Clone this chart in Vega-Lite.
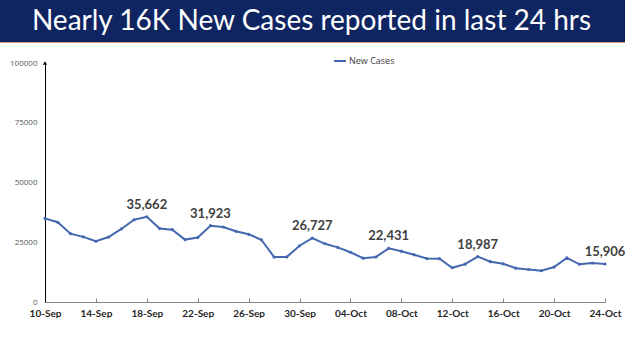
{
  "$schema": "https://vega.github.io/schema/vega-lite/v6.json",
  "padding": 0,
  "background": "white",
  "spacing": 0,
  "config": {"view": {"stroke": null}},
  "vconcat": [
    {
      "width": 625,
      "height": 42,
      "data": {"values": [{"t": "Nearly 16K New Cases reported in last 24 hrs"}]},
      "layer": [
        {"mark": {"type": "rect", "color": "#0E2562"}, "encoding": {}},
        {
          "mark": {"type": "text", "font": "Lato", "fontSize": 28, "color": "white", "align": "center", "baseline": "middle", "dx": -1, "dy": 1},
          "encoding": {"text": {"field": "t", "type": "nominal"}}
        }
      ]
    },
    {
      "width": 625,
      "height": 1,
      "data": {"values": [{"t": ""}]},
      "mark": {"type": "rect", "color": "#E39B73"},
      "encoding": {}
    },
    {
      "width": 625,
      "height": 259,
      "data": {"values": [
        {"day": "10-Sep", "cases": 34973, "series": "New Cases", "lab": false},
        {"day": "11-Sep", "cases": 33376, "series": "New Cases", "lab": false},
        {"day": "12-Sep", "cases": 28591, "series": "New Cases", "lab": false},
        {"day": "13-Sep", "cases": 27254, "series": "New Cases", "lab": false},
        {"day": "14-Sep", "cases": 25404, "series": "New Cases", "lab": false},
        {"day": "15-Sep", "cases": 27176, "series": "New Cases", "lab": false},
        {"day": "16-Sep", "cases": 30570, "series": "New Cases", "lab": false},
        {"day": "17-Sep", "cases": 34403, "series": "New Cases", "lab": false},
        {"day": "18-Sep", "cases": 35662, "series": "New Cases", "lab": true},
        {"day": "19-Sep", "cases": 30773, "series": "New Cases", "lab": false},
        {"day": "20-Sep", "cases": 30256, "series": "New Cases", "lab": false},
        {"day": "21-Sep", "cases": 26115, "series": "New Cases", "lab": false},
        {"day": "22-Sep", "cases": 26964, "series": "New Cases", "lab": false},
        {"day": "23-Sep", "cases": 31923, "series": "New Cases", "lab": true},
        {"day": "24-Sep", "cases": 31382, "series": "New Cases", "lab": false},
        {"day": "25-Sep", "cases": 29616, "series": "New Cases", "lab": false},
        {"day": "26-Sep", "cases": 28326, "series": "New Cases", "lab": false},
        {"day": "27-Sep", "cases": 26041, "series": "New Cases", "lab": false},
        {"day": "28-Sep", "cases": 18795, "series": "New Cases", "lab": false},
        {"day": "29-Sep", "cases": 18870, "series": "New Cases", "lab": false},
        {"day": "30-Sep", "cases": 23529, "series": "New Cases", "lab": false},
        {"day": "01-Oct", "cases": 26727, "series": "New Cases", "lab": true},
        {"day": "02-Oct", "cases": 24354, "series": "New Cases", "lab": false},
        {"day": "03-Oct", "cases": 22842, "series": "New Cases", "lab": false},
        {"day": "04-Oct", "cases": 20799, "series": "New Cases", "lab": false},
        {"day": "05-Oct", "cases": 18346, "series": "New Cases", "lab": false},
        {"day": "06-Oct", "cases": 18833, "series": "New Cases", "lab": false},
        {"day": "07-Oct", "cases": 22431, "series": "New Cases", "lab": true},
        {"day": "08-Oct", "cases": 21257, "series": "New Cases", "lab": false},
        {"day": "09-Oct", "cases": 19740, "series": "New Cases", "lab": false},
        {"day": "10-Oct", "cases": 18166, "series": "New Cases", "lab": false},
        {"day": "11-Oct", "cases": 18132, "series": "New Cases", "lab": false},
        {"day": "12-Oct", "cases": 14313, "series": "New Cases", "lab": false},
        {"day": "13-Oct", "cases": 15823, "series": "New Cases", "lab": false},
        {"day": "14-Oct", "cases": 18987, "series": "New Cases", "lab": true},
        {"day": "15-Oct", "cases": 16862, "series": "New Cases", "lab": false},
        {"day": "16-Oct", "cases": 15981, "series": "New Cases", "lab": false},
        {"day": "17-Oct", "cases": 14146, "series": "New Cases", "lab": false},
        {"day": "18-Oct", "cases": 13596, "series": "New Cases", "lab": false},
        {"day": "19-Oct", "cases": 13058, "series": "New Cases", "lab": false},
        {"day": "20-Oct", "cases": 14623, "series": "New Cases", "lab": false},
        {"day": "21-Oct", "cases": 18454, "series": "New Cases", "lab": false},
        {"day": "22-Oct", "cases": 15786, "series": "New Cases", "lab": false},
        {"day": "23-Oct", "cases": 16326, "series": "New Cases", "lab": false},
        {"day": "24-Oct", "cases": 15906, "series": "New Cases", "lab": true}
      ]},
      "encoding": {
        "x": {
          "field": "day", "type": "ordinal", "sort": null,
          "scale": {"type": "point", "padding": 0, "range": [45, 605]},
          "axis": {
            "title": null,
            "values": ["10-Sep", "14-Sep", "18-Sep", "22-Sep", "26-Sep", "30-Sep", "04-Oct", "08-Oct", "12-Oct", "16-Oct", "20-Oct", "24-Oct"],
            "labelAngle": 0,
            "labelFont": "Lato", "labelFontSize": 10, "labelFontWeight": "bold", "labelColor": "#262626",
            "domainColor": "#868686", "tickColor": "#868686", "tickSize": -4,
            "labelPadding": 10, "grid": false
          }
        },
        "y": {
          "field": "cases", "type": "quantitative",
          "scale": {"domain": [0, 100000], "nice": false, "range": [259, 20]},
          "axis": {
            "title": null, "values": [0, 25000, 50000, 75000, 100000], "format": "d",
            "offset": -45,
            "labelFont": "Open Sans", "labelFontSize": 8, "labelColor": "#595959",
            "ticks": false, "labelPadding": 8, "grid": false,
            "domainColor": "#000000", "domainWidth": 1
          }
        }
      },
      "layer": [
        {
          "mark": {"type": "line", "strokeWidth": 2, "point": {"filled": true, "size": 10}},
          "encoding": {
            "color": {
              "field": "series", "type": "nominal",
              "scale": {"range": ["#4468B0"]},
              "legend": {
                "title": null, "orient": "none", "legendX": 333, "legendY": 54,
                "symbolType": "stroke", "symbolSize": 144, "symbolStrokeWidth": 2,
                "labelFont": "Open Sans", "labelFontSize": 9, "labelColor": "#404040", "labelOffset": 2
              }
            }
          }
        },
        {
          "transform": [{"filter": "datum.lab"}],
          "mark": {"type": "text", "font": "Lato", "fontSize": 13, "fontWeight": "bold", "color": "#404040", "baseline": "alphabetic", "dy": -8},
          "encoding": {"text": {"field": "cases", "type": "quantitative", "format": ","}}
        },
        {
          "data": {"values": [{"day": "10-Sep", "cases": 100000}]},
          "mark": {"type": "point", "shape": "triangle-up", "filled": true, "color": "#000000", "size": 18, "opacity": 1},
          "encoding": {}
        }
      ]
    }
  ]
}
